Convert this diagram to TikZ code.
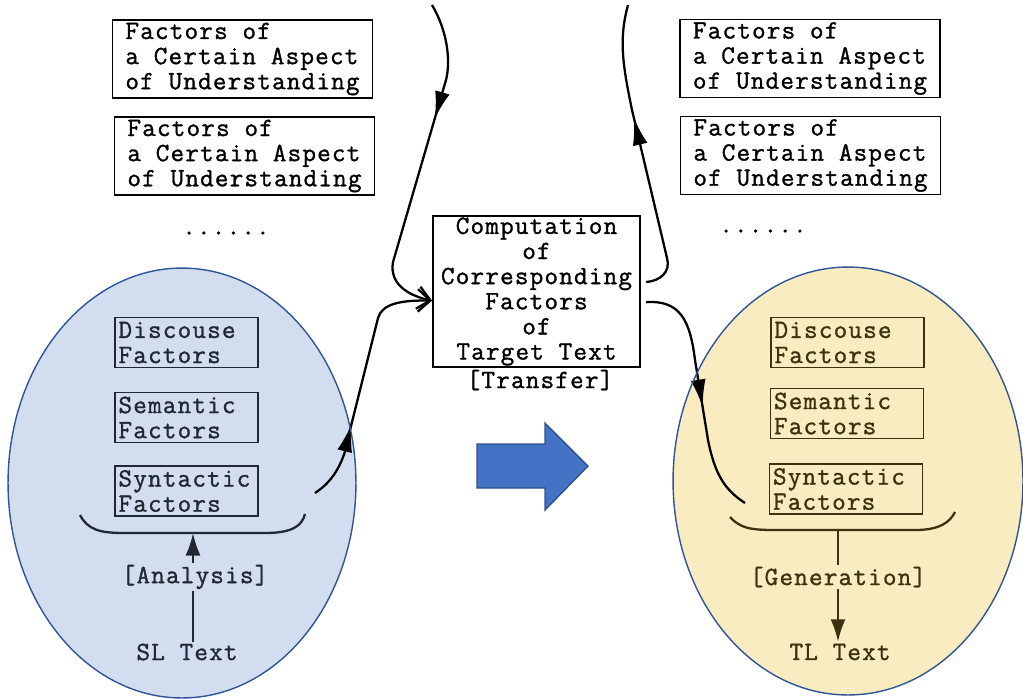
\documentclass[tikz,border=0pt]{standalone}
\usepackage{fontspec}
\setmonofont{lmmono12-regular.otf}[LetterSpace=4.6,FakeBold=1.2]
\usetikzlibrary{arrows.meta,decorations.markings}
\definecolor{ovalblue}{HTML}{D2DDEF}
\definecolor{ovalyellow}{HTML}{F9ECC0}
\definecolor{ovalline}{HTML}{2F5597}
\definecolor{bigarrow}{HTML}{4472C4}
\definecolor{bigarrowline}{HTML}{2F528F}
\definecolor{srcink}{HTML}{222833}
\definecolor{tgtink}{HTML}{3D3210}
\tikzset{
    txt/.style={font=\ttfamily\fontsize{15}{14.3}\selectfont, inner sep=1pt},
    factorbox/.style={txt, draw, line width=1pt, align=left, inner xsep=3pt, inner ysep=1.5pt,
        minimum width=5.2cm, minimum height=1.54cm},
    smallbox/.style={txt, draw, line width=1pt, align=left, inner xsep=2pt, inner ysep=2pt,
        text width=#1, minimum height=1cm},
    flow/.style={line width=1.3pt},
    tip/.style={-{Latex[length=4.5mm,width=3mm]}},
    barb/.style={-{Straight Barb[length=2.5mm,width=4.5mm]}},
    midarrow/.style={postaction={decorate, decoration={markings,
        mark=at position #1 with {\arrow{Latex[length=5.5mm,width=3mm]}}}}},
    oval/.style={draw=ovalline, line width=0.8pt},
}

\begin{document}
\begin{tikzpicture}[x=0.02cm,y=-0.02cm]
    \useasboundingbox (0,0) rectangle (1023,698);
    % the two ovals
    \fill[ovalblue] (182,483) ellipse [x radius=3.48cm, y radius=4.3cm];
    \fill[ovalyellow] (848,481) ellipse [x radius=3.5cm, y radius=4.28cm];

    % source side
    \node[factorbox] (aspL1) at (242.5,59) {Factors of\\a Certain Aspect\\of Understanding};
    \node[factorbox] (aspL2) at (244.5,156) {Factors of\\a Certain Aspect\\of Understanding};
    \node[txt] (dotsL) at (226,233) {......};
    \node[smallbox=2.72cm, srcink] (disL) at (186.5,342.5) {Discouse\\Factors};
    \node[smallbox=2.72cm, srcink] (semL) at (186.5,417.5) {Semantic\\Factors};
    \node[smallbox=2.72cm, srcink] (synL) at (186.5,491) {Syntactic\\Factors};
    \node[txt, srcink] (anaL) at (195,577) {[Analysis]};
    \node[txt, srcink] (slL) at (187,652) {SL Text};
    \coordinate (braceL) at (193,533);
    \draw[flow, srcink] (80,515) .. controls (88,530) and (100,533) .. (125,533) -- (braceL)
        -- (265,533) .. controls (292,533) and (302,526) .. (305,514);
    \draw[flow, srcink] (slL.north -| braceL) -- (anaL.south -| braceL);
    \draw[flow, srcink, tip] (anaL.north -| braceL) -- (braceL);

    % transfer
    \node[txt, draw, line width=1.1pt, align=center, minimum width=4.14cm, minimum height=2.94cm]
        (comp) at (536.5,291.5) {Computation\\of\\Corresponding\\Factors\\of\\Target Text};
    \node[txt] (trans) at (540,380) {[Transfer]};
    \coordinate (fromtop) at (432,5);
    \coordinate (fromsyn) at (315,493);
    \coordinate (totop) at (628,5);
    \coordinate (tosyn) at (745,503);
    \draw[flow, barb, midarrow=0.36] (fromtop) .. controls (447,30) and (451,60) .. (446,80)
        -- (393,262) .. controls (389,285) and (410,296) .. (comp.185);
    \draw[flow, barb, midarrow=0.32] (fromsyn) .. controls (335,480) and (345,460) .. (350,430)
        -- (378,318) .. controls (382,304) and (400,300) .. (comp.185);
    \draw[flow, midarrow=0.62, shorten <=3pt] (comp.5) .. controls (660,281) and (671,272) .. (667,258)
        -- (632,110) .. controls (622,62) and (619,38) .. (totop);
    \draw[flow, midarrow=0.56, shorten <=3pt] (comp.354) .. controls (680,300) and (690,320) .. (695,360)
        -- (708,440) .. controls (715,475) and (725,490) .. (tosyn);

    % target side
    \node[factorbox] (aspR1) at (810,58.5) {Factors of\\a Certain Aspect\\of Understanding};
    \node[factorbox] (aspR2) at (810.5,155.5) {Factors of\\a Certain Aspect\\of Understanding};
    \node[txt] (dotsR) at (763,231) {......};
    \node[smallbox=2.92cm, tgtink] (disR) at (847.5,342.5) {Discouse\\Factors};
    \node[smallbox=2.92cm, tgtink] (semR) at (847,413.5) {Semantic\\Factors};
    \node[smallbox=2.92cm, tgtink] (synR) at (846,489) {Syntactic\\Factors};
    \node[txt, tgtink] (genR) at (838,577) {[Generation]};
    \node[txt, tgtink] (tlR) at (840,652) {TL Text};
    \coordinate (braceR) at (838,530);
    \draw[flow, tgtink] (730,517) .. controls (740,528) and (750,530) .. (775,530) -- (braceR)
        -- (915,530) .. controls (940,530) and (950,522) .. (955,512);
    \draw[flow, tgtink] (braceR) -- (genR.north -| braceR);
    \draw[flow, tgtink, tip] (genR.south -| braceR) -- (tlR.north -| braceR);

    % oval outlines
    \draw[oval] (182,483) ellipse [x radius=3.48cm, y radius=4.3cm];
    \draw[oval] (848,481) ellipse [x radius=3.5cm, y radius=4.28cm];

    % block arrow
    \filldraw[fill=bigarrow, draw=bigarrowline, line width=0.8pt]
        (477,444) -- (545,444) -- (545,423) -- (588,466) -- (545,510) -- (545,488) -- (477,488) -- cycle;
\end{tikzpicture}
\end{document}
